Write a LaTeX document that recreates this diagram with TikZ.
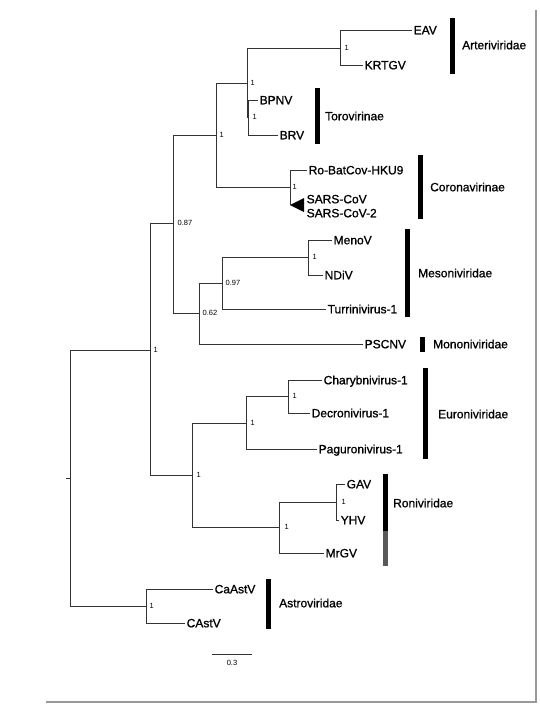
\documentclass[tikz,border=0pt]{standalone}
\usepackage{fontspec}
\setmainfont{Liberation Sans}
\newfontfamily\taxonfont[RawFeature={embolden=1.0}]{Liberation Sans}
\usetikzlibrary{positioning}

\tikzset{
  branch/.style={draw=black!80, line width=0.9pt},
  leaf/.style={anchor=west, inner sep=1.5pt, text height=8.6pt, text depth=0pt, font=\taxonfont\fontsize{12}{14}\selectfont},
  support/.style={inner sep=0.5pt, font=\fontsize{7.5}{9}\selectfont},
  cladename/.style={anchor=west, inner sep=0pt, font=\taxonfont\fontsize{12}{14}\selectfont},
  cladebar/.style={line width=5pt}
}

\begin{document}
\begin{tikzpicture}[x=1pt,y=-1pt]
\useasboundingbox (0,0) rectangle (539,713);
\draw[gray!80, line width=1.2pt] (46,702) -- (536,702) -- (536,10);

\coordinate (stub) at (66,478);
\coordinate (root) at (70,478);
\coordinate (nTop) at (150,350);
\coordinate (n087) at (173,223);
\coordinate (nNido) at (216,135);
\coordinate (nAT) at (247,83);
\coordinate (nArt) at (340,48);
\coordinate (nToro) at (248,117);
\coordinate (nCor) at (290,187);
\coordinate (sars) at (290,205);
\coordinate (n062) at (199,313);
\coordinate (n097) at (222,283);
\coordinate (nMes) at (308,257);
\coordinate (nInv) at (192,475);
\coordinate (nEur) at (246,423);
\coordinate (nChD) at (288,396);
\coordinate (nRon) at (279,527);
\coordinate (nGY) at (336,502);
\coordinate (nAst) at (146,606);

\node[leaf] (eav) at (412,30) {EAV};
\node[leaf] (krtgv) at (363,65) {KRTGV};
\node[leaf] (bpnv) at (258,100) {BPNV};
\node[leaf] (brv) at (278,135) {BRV};
\node[leaf] (hku9) at (307,170) {Ro-BatCov-HKU9};
\node[leaf] (sarscov) at (305,199) {SARS-CoV};
\node[leaf] (sarscov2) at (305,213) {SARS-CoV-2};
\node[leaf] (menov) at (332,240) {MenoV};
\node[leaf] (ndiv) at (323,275) {NDiV};
\node[leaf] (turri) at (326,309) {Turrinivirus-1};
\node[leaf] (pscnv) at (363,344) {PSCNV};
\node[leaf] (charyb) at (322,380) {Charybnivirus-1};
\node[leaf] (decron) at (310,413) {Decronivirus-1};
\node[leaf] (pagur) at (317,449) {Paguronivirus-1};
\node[leaf] (gav) at (345,484) {GAV};
\node[leaf] (yhv) at (339,520) {YHV};
\node[leaf] (mrgv) at (324,553) {MrGV};
\node[leaf] (caastv) at (213,589) {CaAstV};
\node[leaf] (castv) at (185,623) {CAstV};

\draw[branch] (stub) -- (root);
\draw[branch] (root) |- (nTop);
\draw[branch] (root) |- (nAst);
\draw[branch] (nTop) |- (n087);
\draw[branch] (nTop) |- (nInv);
\draw[branch] (n087) |- (nNido);
\draw[branch] (n087) |- (n062);
\draw[branch] (nNido) |- (nAT);
\draw[branch] (nNido) |- (nCor);
\draw[branch] (nAT) |- (nArt);
\draw[branch] (nAT) |- (nToro);
\draw[branch] (nArt) |- (eav.west);
\draw[branch] (nArt) |- (krtgv.west);
\draw[branch] (nToro) |- (bpnv.west);
\draw[branch] (nToro) |- (brv.west);
\draw[branch] (nCor) |- (hku9.west);
\draw[branch] (nCor) -- (sars);
\fill[black] (sars) -- (304,198) -- (304,212) -- cycle;
\draw[branch] (n062) |- (n097);
\draw[branch] (n062) |- (pscnv.west);
\draw[branch] (n097) |- (nMes);
\draw[branch] (n097) |- (turri.west);
\draw[branch] (nMes) |- (menov.west);
\draw[branch] (nMes) |- (ndiv.west);
\draw[branch] (nInv) |- (nEur);
\draw[branch] (nInv) |- (nRon);
\draw[branch] (nEur) |- (nChD);
\draw[branch] (nEur) |- (pagur.west);
\draw[branch] (nChD) |- (charyb.west);
\draw[branch] (nChD) |- (decron.west);
\draw[branch] (nRon) |- (nGY);
\draw[branch] (nRon) |- (mrgv.west);
\draw[branch] (nGY) |- (gav.west);
\draw[branch] (nGY) |- (yhv.west);
\draw[branch] (nAst) |- (caastv.west);
\draw[branch] (nAst) |- (castv.west);

\node[support, right=3pt of nTop] (sTop) {1};
\node[support, right=4pt of n087] (s087) {0.87};
\node[support, right=3pt of nNido] (sNido) {1};
\node[support, right=3pt of nAT] (sAT) {1};
\node[support, right=4pt of nArt] (sArt) {1};
\node[support, right=4pt of nToro] (sToro) {1};
\node[support, right=2pt of nCor] (sCor) {1};
\node[support, right=3pt of n062] (s062) {0.62};
\node[support, right=3pt of n097] (s097) {0.97};
\node[support, right=4pt of nMes] (sMes) {1};
\node[support, right=4pt of nInv] (sInv) {1};
\node[support, right=4pt of nEur] (sEur) {1};
\node[support, right=4pt of nChD] (sChD) {1};
\node[support, right=5pt of nRon] (sRon) {1};
\node[support, right=5pt of nGY] (sGY) {1};
\node[support, right=3pt of nAst] (sAst) {1};

\foreach \x/\ya/\yb/\lx/\ly/\name in {452.5/18/74/462/45/Arteriviridae,
  317/88/144/325/116/Torovirinae, 420/155/219/430/187/Coronavirinae,
  407.5/229/317/418/273/Mesoniviridae, 422/337/352/433/344/Mononiviridae,
  425.5/368/459/438/414/Euroniviridae, 385.5/474/531/393/503/Roniviridae,
  268.5/579/629/279/603/Astroviridae}
{
  \draw[cladebar] (\x,\ya) -- (\x,\yb);
  \node[cladename] (c-\name) at (\lx,\ly) {\name};
}
\draw[cladebar, black!65] (385.5,531) -- (385.5,566);

\coordinate (scaleA) at (212,654);
\coordinate (scaleB) at (252,654);
\draw[branch] (scaleA) -- (scaleB);
\node[support] (scale) at (232,663) {0.3};
\end{tikzpicture}
\end{document}
